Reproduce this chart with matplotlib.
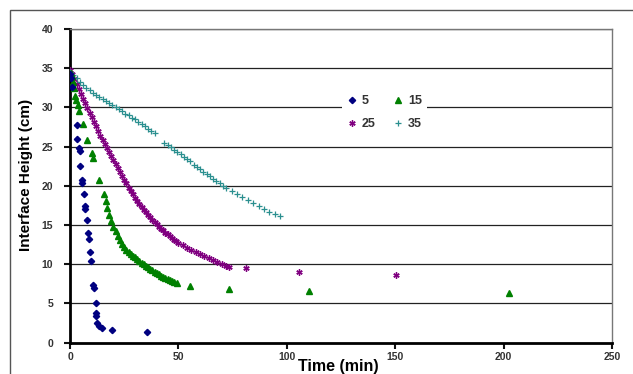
import numpy as np
import matplotlib
matplotlib.use('Agg')
import matplotlib.pyplot as plt
from matplotlib.patches import Rectangle

plt.rcParams['font.family'] = ['Liberation Sans', 'DejaVu Sans']

# settling runs: interface height (cm) against time (min), one series per case
t_5 = [0.0, 0.5, 1.0, 3.2, 3.4, 4.3, 4.5, 4.8, 5.4, 5.6, 6.5, 6.9, 7.0, 8.0, 8.5,
       8.6, 9.2, 9.7, 10.6, 10.9, 11.9, 11.8, 12.0, 12.6, 13.5, 14.6, 19.5, 35.7]
h_5 = [34.3, 33.8, 32.6, 27.7, 26.0, 24.8, 24.4, 22.5, 20.8, 20.3, 19.0, 17.4, 17.0, 15.6, 14.0,
       13.2, 11.5, 10.4, 7.3, 7.0, 5.1, 3.8, 3.4, 2.5, 2.1, 1.8, 1.6, 1.3]

t_15 = [0.3, 0.8, 1.3, 1.8, 2.3, 2.8, 3.5, 4.3, 6.1, 8.0, 10.3, 10.6, 13.5, 15.7, 16.6,
        17, 18, 19, 20, 21, 22, 23, 24, 25, 26, 27, 28, 29, 30, 31, 32, 33, 34, 35, 36,
        37, 38, 39, 40, 41, 42, 43, 44, 45, 46, 47, 48, 49.2, 55.4, 73.5, 110.4, 202.6]
h_15 = [34.4, 34.0, 33.2, 32.5, 31.5, 31.0, 30.3, 29.5, 27.9, 25.9, 24.2, 23.6, 20.7, 19.0, 18.0,
        17.2, 16.3, 15.5, 14.8, 14.2, 13.6, 13.1, 12.6, 12.2, 11.85, 11.5, 11.3, 11.1, 10.9, 10.7,
        10.45, 10.2, 10.0, 9.8, 9.6, 9.4, 9.2, 9.0, 8.85, 8.7, 8.5, 8.35, 8.2, 8.05, 7.95, 7.85,
        7.75, 7.6, 7.2, 6.9, 6.6, 6.3]

t_25 = [0, 1, 2, 3, 4, 5, 6, 7, 8, 9, 10, 11, 12, 13, 14, 15, 16, 17, 18, 19, 20, 21, 22,
        23, 24, 25, 26, 27, 28, 29, 30, 31, 32, 33, 34, 35, 36, 37, 38, 39, 40, 41, 42, 43,
        44, 45, 46, 47, 48, 49, 50, 52, 54, 56, 58, 60, 62, 64, 66, 68, 70, 72, 73.5, 81.1,
        105.7, 150.4]
h_25 = [34.8, 34.3, 33.6, 33.0, 32.3, 31.7, 31.1, 30.5, 29.9, 29.3, 28.8, 28.2, 27.6, 27.0,
        26.4, 25.8, 25.3, 24.8, 24.3, 23.8, 23.3, 22.8, 22.3, 21.8, 21.3, 20.8, 20.3, 19.7,
        19.3, 18.9, 18.5, 18.1, 17.7, 17.3, 16.9, 16.6, 16.3, 16.0, 15.7, 15.4, 15.1, 14.8,
        14.5, 14.3, 14.0, 13.8, 13.6, 13.3, 13.1, 12.9, 12.7, 12.4, 12.1, 11.8, 11.5, 11.3,
        11.1, 10.8, 10.5, 10.3, 10.0, 9.8, 9.6, 9.5, 9.05, 8.6]

t_35 = [0, 1.5, 3, 4.5, 6, 7.5, 9, 10.5, 12, 13.5, 15, 16.5, 18, 19.5, 21, 22.5, 24, 25.5,
        27, 28.5, 30, 31.5, 33, 34.5, 36, 37.5, 39, 43.5, 45, 46.5, 48, 49.5, 51, 52.5, 54,
        55.5, 57, 58.5, 60, 61.5, 63, 64.5, 66, 67.5, 69, 70.5, 72, 74.5, 77, 79.5, 82, 84.5,
        87, 89.5, 92, 94.5, 97]
h_35 = [34.5, 34.1, 33.7, 33.3, 32.9, 32.5, 32.2, 31.9, 31.6, 31.3, 31.1, 30.8, 30.6, 30.3,
        30.0, 29.8, 29.5, 29.2, 29.0, 28.7, 28.5, 28.2, 27.9, 27.6, 27.3, 27.0, 26.7, 25.5,
        25.2, 24.9, 24.6, 24.3, 24.0, 23.7, 23.4, 23.1, 22.7, 22.4, 22.1, 21.8, 21.5, 21.2,
        20.9, 20.6, 20.3, 20.0, 19.7, 19.3, 19.0, 18.6, 18.2, 17.8, 17.4, 17.0, 16.7, 16.4, 16.2]

x_ticks = [0, 50, 100, 150, 200, 250]
y_ticks = [0, 5, 10, 15, 20, 25, 30, 35, 40]

fig = plt.figure(figsize=(6.33, 3.74), dpi=100)
ax = fig.add_axes([70 / 633, 1 - 342.6 / 374, 542 / 633, 313.6 / 374])

# outer chart frame
fig.patches.append(Rectangle((10 / 633, -0.1), 1.0, 1.1 - 10 / 374, transform=fig.transFigure,
                             fill=False, edgecolor='#555555', linewidth=1.0))

for y in y_ticks[1:]:
    ax.axhline(y, color='#222222', linewidth=0.9, zorder=1)

p5, = ax.plot(t_5, h_5, linestyle='none', marker='D', ms=3.2, color='#000080', label='5', zorder=5)
p15, = ax.plot(t_15, h_15, linestyle='none', marker='^', ms=4.6, color='#008000', label='15', zorder=4)
p25, = ax.plot(t_25, h_25, linestyle='none', marker=(6, 2, 0), ms=4.5, mew=1.0, color='#800080',
               label='25', zorder=3)
p35, = ax.plot(t_35, h_35, linestyle='none', marker='+', ms=4.2, mew=0.9, color='#2a8f8f',
               label='35', zorder=3)

ax.set_xlim(0, 250)
ax.set_ylim(0, 40)
ax.set_xticks(x_ticks)
ax.set_yticks(y_ticks)
ax.tick_params(direction='out', length=4, width=1.5, labelsize=7.5, colors='#111111')
ax.tick_params(axis='x', pad=3)
ax.tick_params(axis='y', pad=8)
for lab in ax.get_xticklabels() + ax.get_yticklabels():
    lab.set_fontweight('bold')
    lab.set_color('#333333')

for side in ['left', 'bottom']:
    ax.spines[side].set_linewidth(2)
    ax.spines[side].set_color('black')
for side in ['right', 'top']:
    ax.spines[side].set_linewidth(1)
    ax.spines[side].set_color('#777777')

ax.set_xlabel('Time (min)', fontsize=11.5, fontweight='bold')
ax.xaxis.set_label_coords(0.495, -0.052)
ax.xaxis.label.set_verticalalignment('top')
ax.set_ylabel('Interface Height (cm)', fontsize=11, fontweight='bold')
ax.yaxis.set_label_coords(-0.068, 0.534)

# column-major fill so the rows read 5, 15 / 25, 35
leg = ax.legend([p5, p25, p15, p35], ['5', '25', '15', '35'], loc='upper left',
                bbox_to_anchor=(0.49, 0.825), ncol=2, frameon=True,
                fancybox=False, edgecolor='none', facecolor='white', framealpha=1,
                handlelength=0.8, handletextpad=0.4, columnspacing=1.4, labelspacing=0.9,
                borderpad=0.4, prop={'size': 9, 'weight': 'bold'})
for txt in leg.get_texts():
    txt.set_color('#333333')

plt.savefig('out.png', dpi=100)
